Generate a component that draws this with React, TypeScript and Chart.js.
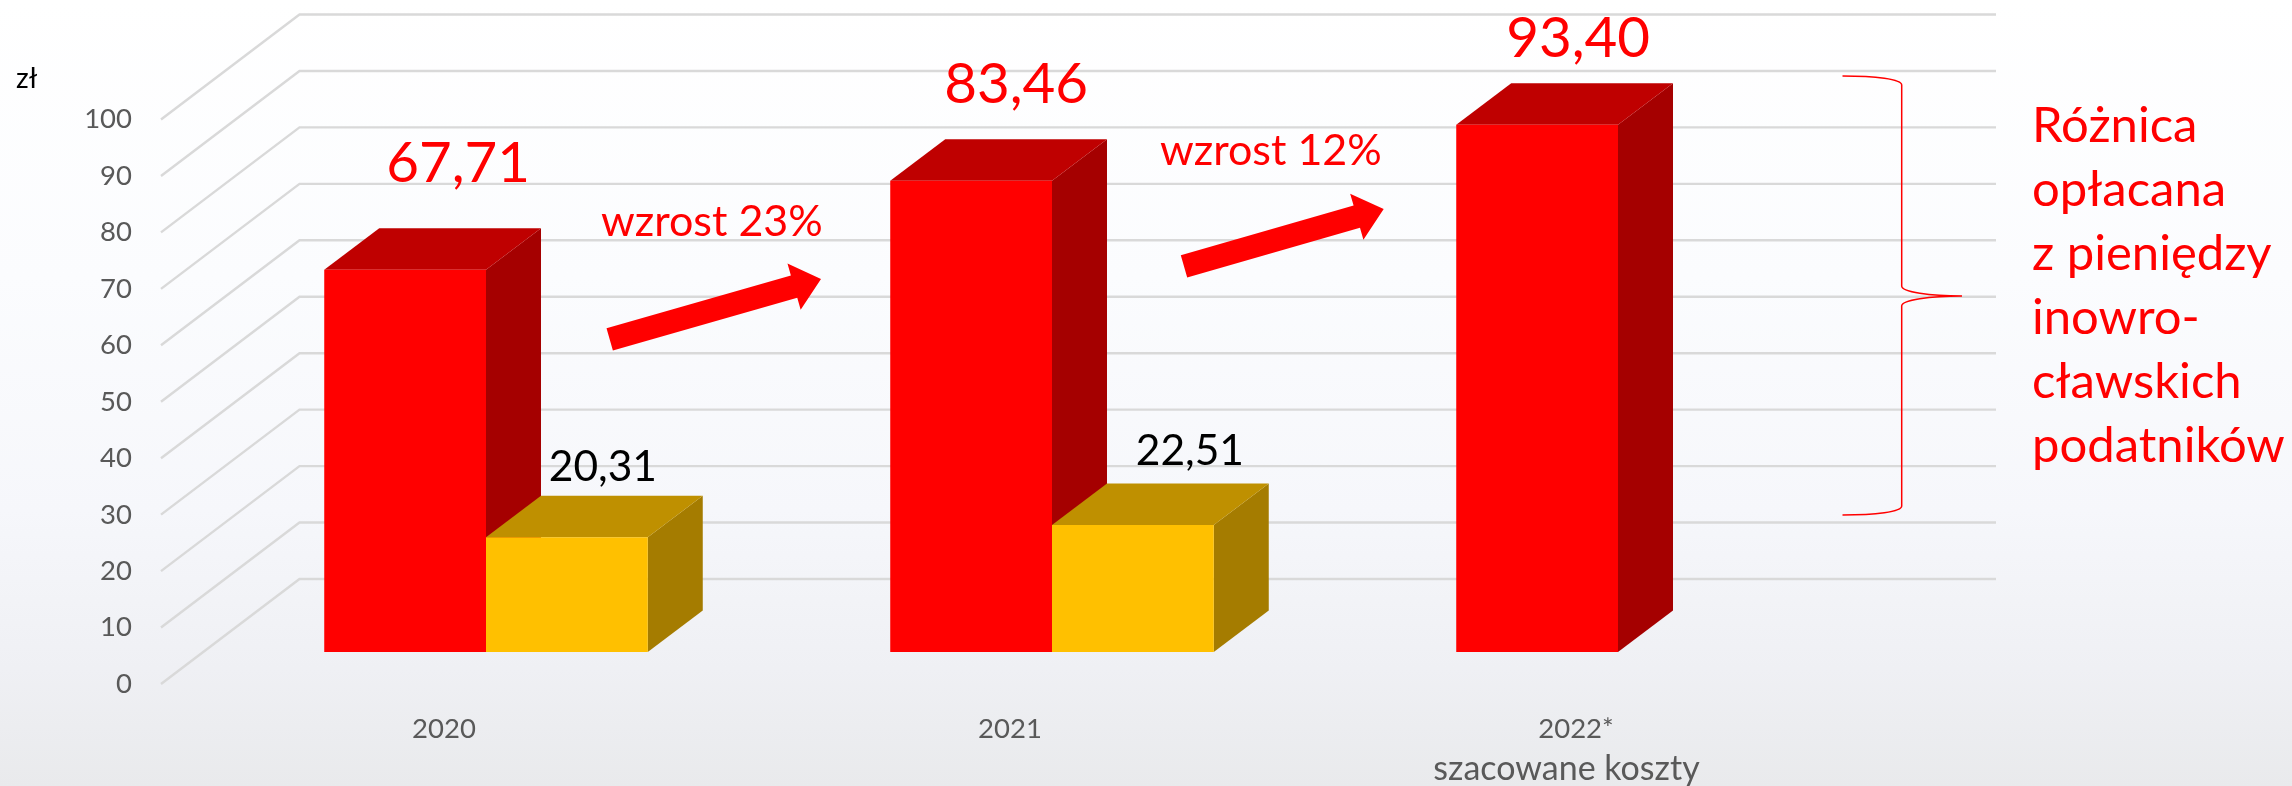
import React, { useEffect, useRef } from "react";
import { Chart, registerables } from "chart.js";

Chart.register(...registerables);

const categories = ["2020", "2021", "2022*"];
const totalCosts = [67.71, 83.46, 93.4];
const cityCosts = [20.31, 22.51, null];
const yTicks = { min: 0, max: 100, step: 10 };

const FONT = "Lato, Carlito, sans-serif";
const depthX = 55;
const depthY = 41.5;
const wallDX = 138.5;
const wallDY = 105;
const planeDX = 42;
const planeDY = 32;
const wallRight = 1996;

const redLabelOffsets = [[53, -87.5], [45, -77.6], [41, -68]];
const goldLabelOffsets = [[36, -56], [57, -60]];

const sideTexts = ["Różnica", "opłacana", "z pieniędzy", "inowro-", "cławskich", "podatników"];
const growthNotes = [
  { text: "wzrost 23%", x: 601, y: 235.7 },
  { text: "wzrost 12%", x: 1160, y: 165 },
];
const arrows = [
  { tail: [609.7, 339.3], tip: [821, 279] },
  { tail: [1184, 266.3], tip: [1383.7, 209] },
];

const fmt = (v: number) => v.toFixed(2).replace(".", ",");

function drawFaces(chart: any, index: number) {
  const { ctx } = chart;
  const meta = chart.getDatasetMeta(index);
  const ds = chart.data.datasets[index];
  ctx.save();
  meta.data.forEach((bar: any, i: number) => {
    if (ds.data[i] == null) return;
    const { x, y, base, width } = bar.getProps(["x", "y", "base", "width"], true);
    const l = x - width / 2;
    const r = x + width / 2;
    ctx.fillStyle = ds.sideColor;
    ctx.beginPath();
    ctx.moveTo(r, y);
    ctx.lineTo(r + depthX, y - depthY);
    ctx.lineTo(r + depthX, base - depthY);
    ctx.lineTo(r, base);
    ctx.closePath();
    ctx.fill();
    ctx.fillStyle = ds.topColor;
    ctx.beginPath();
    ctx.moveTo(l, y);
    ctx.lineTo(l + depthX, y - depthY);
    ctx.lineTo(r + depthX, y - depthY);
    ctx.lineTo(r, y);
    ctx.closePath();
    ctx.fill();
  });
  ctx.restore();
}

const scene3d = {
  id: "scene3d",
  beforeDraw(chart: any) {
    const { ctx, width, height } = chart;
    const g = ctx.createLinearGradient(0, 0, 0, height);
    g.addColorStop(0, "#ffffff");
    g.addColorStop(0.35, "#fbfcfe");
    g.addColorStop(0.65, "#f6f7fb");
    g.addColorStop(0.85, "#eff0f4");
    g.addColorStop(1, "#e9eaec");
    ctx.save();
    ctx.fillStyle = g;
    ctx.fillRect(0, 0, width, height);
    ctx.restore();
  },
  beforeDatasetsDraw(chart: any) {
    const { ctx, scales } = chart;
    const y = scales.y;
    const left = chart.chartArea.left;
    ctx.save();
    ctx.strokeStyle = "#d9d9d9";
    ctx.lineWidth = 2.4;
    ctx.lineCap = "butt";
    y.ticks.forEach((t: any) => {
      const fy = y.getPixelForValue(t.value) + planeDY;
      const fx = left - planeDX;
      ctx.beginPath();
      ctx.moveTo(fx, fy);
      ctx.lineTo(fx + wallDX, fy - wallDY);
      ctx.lineTo(wallRight, fy - wallDY);
      ctx.stroke();
    });
    ctx.restore();
    // the tall red columns stand behind the gold ones
    drawFaces(chart, 0);
  },
  beforeDatasetDraw(chart: any, args: any) {
    if (args.index === 1) drawFaces(chart, 1);
  },
  afterDatasetsDraw(chart: any) {
    const { ctx } = chart;
    ctx.save();
    ctx.textBaseline = "alphabetic";

    // value labels
    ctx.textAlign = "center";
    ctx.fillStyle = "#ff0000";
    ctx.font = `56.5px ${FONT}`;
    chart.getDatasetMeta(0).data.forEach((bar: any, i: number) => {
      const [dx, dy] = redLabelOffsets[i];
      ctx.fillText(fmt(totalCosts[i]), bar.x + dx, bar.y + dy);
    });
    ctx.fillStyle = "#000000";
    ctx.font = `42.5px ${FONT}`;
    chart.getDatasetMeta(1).data.forEach((bar: any, i: number) => {
      const v = cityCosts[i];
      if (v == null) return;
      const [dx, dy] = goldLabelOffsets[i];
      ctx.fillText(fmt(v), bar.x + dx, bar.y + dy);
    });

    // axis unit
    ctx.textAlign = "left";
    ctx.font = `28px ${FONT}`;
    ctx.fillStyle = "#000000";
    ctx.fillText("zł", 16, 88);

    // second line under 2022*
    ctx.textAlign = "center";
    ctx.font = `34px ${FONT}`;
    ctx.fillStyle = "#595959";
    ctx.fillText("szacowane koszty", 1566.5, 780);

    // growth notes
    ctx.textAlign = "left";
    ctx.font = `43px ${FONT}`;
    ctx.fillStyle = "#ff0000";
    growthNotes.forEach((n) => ctx.fillText(n.text, n.x, n.y));

    // side text
    ctx.font = `49px ${FONT}`;
    sideTexts.forEach((t, i) => ctx.fillText(t, 2032, 142 + i * 63.9));

    // arrows
    ctx.fillStyle = "#ff0000";
    arrows.forEach(({ tail, tip }) => {
      const dx = tip[0] - tail[0];
      const dy = tip[1] - tail[1];
      const len = Math.hypot(dx, dy);
      const ux = dx / len;
      const uy = dy / len;
      const nx = -uy;
      const ny = ux;
      const head = 28;
      const sw = 11.6;
      const hw = 24;
      const bx = tip[0] - ux * head;
      const by = tip[1] - uy * head;
      ctx.beginPath();
      ctx.moveTo(tail[0] + nx * sw, tail[1] + ny * sw);
      ctx.lineTo(bx + nx * sw, by + ny * sw);
      ctx.lineTo(bx + nx * hw, by + ny * hw);
      ctx.lineTo(tip[0], tip[1]);
      ctx.lineTo(bx - nx * hw, by - ny * hw);
      ctx.lineTo(bx - nx * sw, by - ny * sw);
      ctx.lineTo(tail[0] - nx * sw, tail[1] - ny * sw);
      ctx.closePath();
      ctx.fill();
    });

    // brace
    ctx.strokeStyle = "#ff0000";
    ctx.lineWidth = 1.5;
    ctx.beginPath();
    ctx.moveTo(1842.5, 76);
    ctx.bezierCurveTo(1875, 76, 1901.7, 79, 1901.7, 85);
    ctx.lineTo(1901.7, 286);
    ctx.bezierCurveTo(1901.7, 292, 1930, 296, 1962, 296);
    ctx.bezierCurveTo(1930, 296, 1901.7, 300, 1901.7, 306);
    ctx.lineTo(1901.7, 506);
    ctx.bezierCurveTo(1901.7, 512, 1875, 515, 1842.5, 515);
    ctx.stroke();
    ctx.restore();
  },
};

export default function App() {
  const ref = useRef<HTMLCanvasElement>(null);
  useEffect(() => {
    if (!ref.current) return;
    const chart = new Chart(ref.current, {
      type: "bar",
      data: {
        labels: categories,
        datasets: [
          {
            label: "Koszty",
            data: totalCosts,
            backgroundColor: "#ff0000",
            topColor: "#bf0000",
            sideColor: "#a50000",
          },
          {
            label: "Opłata",
            data: cityCosts,
            backgroundColor: "#ffc000",
            topColor: "#bf9000",
            sideColor: "#a57c00",
          },
        ] as any,
      },
      options: {
        responsive: false,
        animation: false,
        devicePixelRatio: 1,
        layout: { padding: { left: 0, top: 86, right: 391, bottom: 0 } },
        datasets: { bar: { barPercentage: 1, categoryPercentage: 0.5716, grouped: true } },
        plugins: { legend: { display: false }, title: { display: false }, tooltip: { enabled: false } },
        scales: {
          x: {
            grid: { display: false, drawTicks: false },
            border: { display: false },
            ticks: {
              color: "#595959",
              font: { family: FONT, size: 27.5 },
              padding: 61,
              labelOffset: -42,
              autoSkip: false,
              maxRotation: 0,
            },
            afterFit(s: any) {
              s.height = 134;
            },
          },
          y: {
            min: yTicks.min,
            max: yTicks.max,
            grid: { display: false, drawTicks: false },
            border: { display: false },
            ticks: {
              stepSize: yTicks.step,
              color: "#595959",
              font: { family: FONT, size: 27.5 },
              padding: 71,
              labelOffset: planeDY,
            },
            afterFit(s: any) {
              s.width = 203;
            },
          },
        },
      },
      plugins: [scene3d],
    } as any);
    return () => chart.destroy();
  }, []);
  return (
    <canvas
      ref={ref}
      width={2292}
      height={786}
      style={{ position: "absolute", left: 0, top: 0, width: 2292, height: 786, display: "block" }}
    />
  );
}
